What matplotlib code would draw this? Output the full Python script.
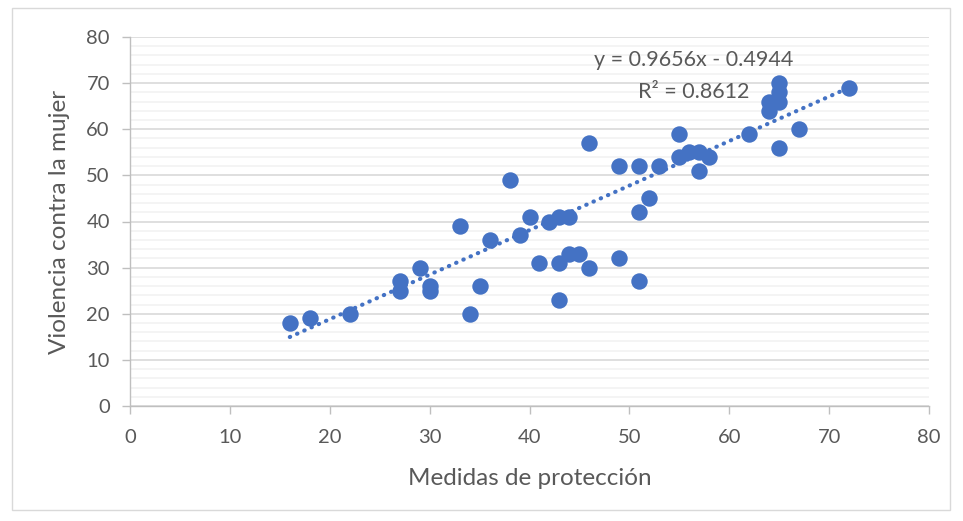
import matplotlib.pyplot as plt
import numpy as np
from matplotlib.patches import Rectangle

# data
medidas = [16, 18, 22, 27, 27, 29, 30, 30, 33, 34, 35, 36, 38, 39, 40, 41, 42,
           43, 43, 43, 44, 44, 45, 46, 46, 49, 49, 51, 51, 51, 52, 53, 55, 55,
           56, 57, 57, 58, 62, 64, 64, 65, 65, 65, 65, 67, 72]
violencia = [18, 19, 20, 27, 25, 30, 26, 25, 39, 20, 26, 36, 49, 37, 41, 31, 40,
             41, 31, 23, 41, 33, 33, 57, 30, 52, 32, 52, 42, 27, 45, 52, 59, 54,
             55, 55, 51, 54, 59, 66, 64, 70, 68, 66, 56, 60, 69]
slope = 0.9656
intercept = -0.4944
r2 = 0.8612

blue = "#4472C4"
gray = "#595959"
plt.rcParams['font.family'] = ['Lato', 'DejaVu Sans']

fig = plt.figure(figsize=(9.63, 5.21), dpi=100)
fig.patches.append(Rectangle((12 / 963, 1 - 510 / 521), 938 / 963, 502 / 521,
                             transform=fig.transFigure, fill=False,
                             edgecolor="#d9d9d9", linewidth=1))
ax = fig.add_axes([130 / 963, 1 - 406 / 521, 799 / 963, 369 / 521])

ax.set_xlim(0, 80)
ax.set_ylim(0, 80)
ax.set_xticks(np.arange(0, 81, 10))
ax.set_yticks(np.arange(0, 81, 10))
ax.set_yticks(np.arange(0, 81, 2), minor=True)
ax.grid(axis="y", which="major", color="#d9d9d9", linewidth=1.2)
ax.grid(axis="y", which="minor", color="#f2f2f2", linewidth=1.2)
ax.set_axisbelow(True)

for side in ["top", "right"]:
    ax.spines[side].set_visible(False)
for side in ["left", "bottom"]:
    ax.spines[side].set_color("#bfbfbf")
    ax.spines[side].set_linewidth(1)

ax.tick_params(axis="both", which="major", colors="#bfbfbf", labelcolor=gray,
               labelsize=14.5, length=5.5, width=1)
ax.tick_params(axis="y", which="minor", length=0)
ax.tick_params(axis="x", pad=11)
ax.tick_params(axis="y", pad=9)

ax.scatter(medidas, violencia, s=140, color=blue, zorder=3, linewidths=0)

xt = np.array([min(medidas), max(medidas)])
ax.plot(xt, slope * xt + intercept, color=blue, linewidth=3,
        linestyle=(0, (0.1, 1.8)), dash_capstyle="round", zorder=2)

ax.text(56.4, 75, f"y = {slope}x - {abs(intercept)}", ha="center", va="center",
        fontsize=15.5, color=gray)
ax.text(56.4, 68.1, f"R² = {r2}", ha="center", va="center",
        fontsize=15.5, color=gray)

ax.set_xlabel("Medidas de protección", fontsize=17.5, color=gray, labelpad=16)
ax.set_ylabel("Violencia contra la mujer", fontsize=17.5, color=gray, labelpad=12)

fig.savefig("out.png", dpi=100)
